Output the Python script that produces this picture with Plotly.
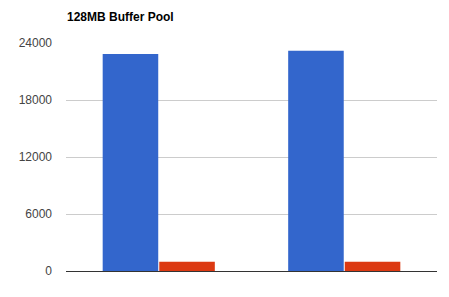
import plotly.graph_objects as go

# Throughput per run, two series
categories = ["Run 1", "Run 2"]
series_a = [22850, 23190]
series_b = [980, 975]
y_ticks = [0, 6000, 12000, 18000, 24000]

W, H = 449, 297
ML, MR, MT, MB = 66, 12, 43, 26

fig = go.Figure()
fig.add_trace(go.Bar(x=categories, y=series_a, marker=dict(color="#3366cc", line=dict(width=0)), name="A"))
fig.add_trace(go.Bar(x=categories, y=series_b, marker=dict(color="#dc3912", line=dict(width=0)), name="B"))

fig.update_layout(
    width=W, height=H,
    margin=dict(l=ML, r=MR, t=MT, b=MB, pad=0),
    paper_bgcolor="white", plot_bgcolor="white",
    barmode="group", bargap=0.39, bargroupgap=0.018,
    showlegend=False,
    font=dict(family="Liberation Sans, Arial, sans-serif", size=12, color="#444"),
    title=dict(
        text="<b>128MB Buffer Pool</b>",
        font=dict(family="Liberation Sans, Arial, sans-serif", size=12, color="#000"),
        xref="container", yref="container",
        x=67 / W, xanchor="left",
        y=1 - 17 / H, yanchor="middle",
    ),
)
fig.update_xaxes(
    showticklabels=False, ticks="", showgrid=False,
    showline=True, linecolor="#333", linewidth=1,
)
fig.update_yaxes(
    range=[0, 24000], tickvals=y_ticks, ticktext=[str(v) for v in y_ticks],
    showgrid=True, gridcolor="#cccccc", gridwidth=1,
    zeroline=False, showline=False, ticks="",
    ticklabelstandoff=13,
    tickfont=dict(size=12, color="#444"),
)

fig.write_html("out.html")
